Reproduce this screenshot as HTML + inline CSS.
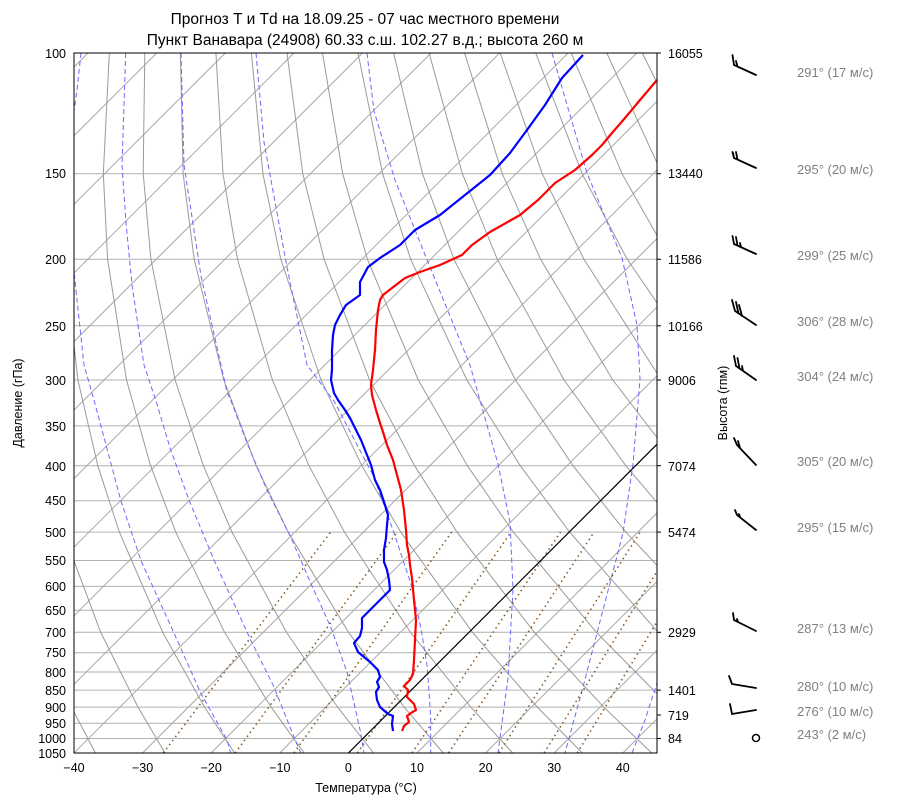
<!DOCTYPE html>
<html><head><meta charset="utf-8">
<style>
body{margin:0;background:#fff;}
svg text{font-family:"Liberation Sans","DejaVu Sans",sans-serif;}
</style></head>
<body>
<svg width="900" height="806" xmlns="http://www.w3.org/2000/svg">
<defs><clipPath id="c"><rect x="74" y="53" width="583" height="700"/></clipPath></defs>
<g clip-path="url(#c)">
<g stroke="#b0b0b0" stroke-width="1">
<line x1="74" x2="657" y1="53" y2="53"/><line x1="74" x2="657" y1="173.7" y2="173.7"/><line x1="74" x2="657" y1="259.3" y2="259.3"/><line x1="74" x2="657" y1="325.8" y2="325.8"/><line x1="74" x2="657" y1="380" y2="380"/><line x1="74" x2="657" y1="425.9" y2="425.9"/><line x1="74" x2="657" y1="465.7" y2="465.7"/><line x1="74" x2="657" y1="500.7" y2="500.7"/><line x1="74" x2="657" y1="532.1" y2="532.1"/><line x1="74" x2="657" y1="560.5" y2="560.5"/><line x1="74" x2="657" y1="586.4" y2="586.4"/><line x1="74" x2="657" y1="610.2" y2="610.2"/><line x1="74" x2="657" y1="632.3" y2="632.3"/><line x1="74" x2="657" y1="652.8" y2="652.8"/><line x1="74" x2="657" y1="672" y2="672"/><line x1="74" x2="657" y1="690.1" y2="690.1"/><line x1="74" x2="657" y1="707.1" y2="707.1"/><line x1="74" x2="657" y1="723.2" y2="723.2"/><line x1="74" x2="657" y1="738.5" y2="738.5"/>
</g>
<g stroke="#a8a8a8" stroke-width="1">
<line x1="-611.9" y1="753" x2="88.1" y2="53"/><line x1="-543.3" y1="753" x2="156.7" y2="53"/><line x1="-474.7" y1="753" x2="225.3" y2="53"/><line x1="-406.1" y1="753" x2="293.9" y2="53"/><line x1="-337.5" y1="753" x2="362.5" y2="53"/><line x1="-268.9" y1="753" x2="431.1" y2="53"/><line x1="-200.4" y1="753" x2="499.6" y2="53"/><line x1="-131.8" y1="753" x2="568.2" y2="53"/><line x1="-63.2" y1="753" x2="636.8" y2="53"/><line x1="5.3" y1="753" x2="705.3" y2="53"/><line x1="73.9" y1="753" x2="773.9" y2="53"/><line x1="142.5" y1="753" x2="842.5" y2="53"/><line x1="211.1" y1="753" x2="911.1" y2="53"/><line x1="279.7" y1="753" x2="979.7" y2="53"/><line x1="417" y1="753" x2="1117" y2="53"/><line x1="485.6" y1="753" x2="1185.6" y2="53"/><line x1="554.2" y1="753" x2="1254.2" y2="53"/><line x1="622.8" y1="753" x2="1322.8" y2="53"/>
</g>
<g stroke="#9a9a9a" stroke-width="1" fill="none">
<polyline points="95.4,753 71.4,707.1 38.8,632.3 6.9,532.1 -7.8,465.7 -19.3,380 -22.3,259.3 -16.4,173.7 2.7,53"/>
<polyline points="165,753 138,707.1 100.7,632.3 63.2,532.1 45,465.7 29.3,380 21,259.3 23.5,173.7 38.2,53"/>
<polyline points="234.5,753 204.5,707.1 162.7,632.3 119.4,532.1 97.8,465.7 77.9,380 64.3,259.3 63.4,173.7 73.8,53"/>
<polyline points="304.1,753 271.1,707.1 224.6,632.3 175.7,532.1 150.6,465.7 126.5,380 107.6,259.3 103.3,173.7 109.3,53"/>
<polyline points="373.6,753 337.6,707.1 286.5,632.3 232,532.1 203.4,465.7 175.1,380 150.9,259.3 143.2,173.7 144.8,53"/>
<polyline points="443.2,753 404.2,707.1 348.5,632.3 288.2,532.1 256.2,465.7 223.8,380 194.2,259.3 183.1,173.7 180.4,53"/>
<polyline points="512.7,753 470.7,707.1 410.4,632.3 344.5,532.1 309,465.7 272.4,380 237.5,259.3 223,173.7 215.9,53"/>
<polyline points="582.3,753 537.3,707.1 472.4,632.3 400.8,532.1 361.8,465.7 321,380 280.8,259.3 262.9,173.7 251.4,53"/>
<polyline points="651.8,753 603.8,707.1 534.3,632.3 457,532.1 414.6,465.7 369.6,380 324.1,259.3 302.8,173.7 287,53"/>
<polyline points="721.4,753 670.4,707.1 596.3,632.3 513.3,532.1 467.4,465.7 418.3,380 367.4,259.3 342.7,173.7 322.5,53"/>
<polyline points="791,753 736.9,707.1 658.2,632.3 569.6,532.1 520.2,465.7 466.9,380 410.7,259.3 382.6,173.7 358,53"/>
<polyline points="860.5,753 803.5,707.1 720.1,632.3 625.8,532.1 573,465.7 515.5,380 454,259.3 422.5,173.7 393.6,53"/>
<polyline points="930,753 870,707.1 782,632.3 682.1,532.1 625.8,465.7 564.1,380 497.3,259.3 462.4,173.7 429.1,53"/>
<polyline points="844,632.3 738.4,532.1 678.6,465.7 612.8,380 540.6,259.3 502.3,173.7 464.6,53"/>
<polyline points="906,632.3 794.7,532.1 731.4,465.7 661.4,380 583.9,259.3 542.2,173.7 500.2,53"/>
<polyline points="851,532.1 784.2,465.7 710,380 627.2,259.3 582.1,173.7 535.7,53"/>
<polyline points="837,465.7 758.6,380 670.5,259.3 622,173.7 571.2,53"/>
<polyline points="890,465.7 807.3,380 713.8,259.3 661.9,173.7 606.8,53"/>
<polyline points="856,380 757.1,259.3 701.8,173.7 642.3,53"/>
<polyline points="905,380 800.4,259.3 741.7,173.7 677.8,53"/>
</g>
<g stroke="#6a6aff" stroke-width="1" fill="none" stroke-dasharray="5,3">
<polyline points="81,53 77,90 72,125"/>
<polyline points="72,250 74,272 84,365 94,400 120.7,500 140.7,560 174,633 200.7,693 227,740 230.7,753"/>
<polyline points="125.7,53 122,165 126,223 132,285 144,365 155.7,400 170.7,450 189,500 214,560 250.7,640 274,687 294,737 300.7,753"/>
<polyline points="181,53 184,165 201,276 227,392 230.7,400 247,443 267,490 290.7,537 310.7,583 330.7,627 347.3,673 360.7,733 364,753"/>
<polyline points="256,53 264,142 287,267 307,365 334,401 374,477 394,533 410.7,583 420.7,627 427.3,667 430.7,717 430.7,753"/>
<polyline points="367,53 374,111 395,180 415,230 432,272 470,365 498,464 510,522 513,589 508,678 498,753"/>
<polyline points="552,53 570,115 587,173 622,258 637,325 640,379 633,464 623,533 597,633 583,687 565,753"/>
<polyline points="632,753 645,720 657,683 670,650"/>
</g>
<g stroke="#8b5a2b" stroke-width="1.6" fill="none" stroke-dasharray="1.5,3.5">
<line x1="163.2" y1="753" x2="330.6" y2="532.1"/>
<line x1="235.2" y1="753" x2="397.1" y2="532.1"/>
<line x1="293.9" y1="753" x2="451.7" y2="532.1"/>
<line x1="357.3" y1="753" x2="511" y2="532.1"/>
<line x1="412" y1="753" x2="560.5" y2="532.1"/>
<line x1="448.6" y1="753" x2="594.1" y2="532.1"/>
<line x1="498.9" y1="753" x2="640.2" y2="532.1"/>
<line x1="544.1" y1="753" x2="681.4" y2="532.1"/>
<line x1="577.2" y1="753" x2="711.6" y2="532.1"/>
</g>
<line x1="348.4" y1="753" x2="1048" y2="53" stroke="#000" stroke-width="1.2"/>
<polyline fill="none" stroke="#ff0000" stroke-width="2.2" stroke-linejoin="round" points="402,731 404,726 409,722 407,716 411,713 416,710 414,704 407,697 408,690 404,686 410,680 413,674 414,660 415,640 416,620 414,600 412,578 410,565 409,555 407,545 406,530 404,510 401,490 397,475 393,460 387,445 383,432 380,423 376,410 372,395 371,385 373,370 375,350 376,330 378,310 380,300 383,295 392,288 405,278 420,272 440,265 462,255 472,245 490,232 520,215 538,200 555,183 575,170 592,155 602,145 612,133 625,118 640,100 657,80"/>
<polyline fill="none" stroke="#0000ff" stroke-width="2.2" stroke-linejoin="round" points="393,731 392,724 393,716 388,714 380,707 377,700 376,692 379,687 377,682 380,677 378,670 370,662 358,652 354,643 360,636 362,628 362,618 370,610 378,602 385,595 390,590 389,580 387,570 384,562 384,550 386,538 387,525 388,515 385,505 380,490 375,480 371,465 367,455 361,440 355,428 350,418 345,410 338,400 334,393 331,380 332,370 332,350 333,335 335,325 340,315 346,305 360,295 360,282 368,267 380,258 400,245 415,230 440,215 465,195 490,175 510,153 527,130 545,105 562,78 583,55"/>
</g>
<rect x="74" y="53" width="583" height="700" fill="none" stroke="#000" stroke-width="1"/>
<g stroke="#000" stroke-width="1">
<line x1="657" x2="661" y1="53" y2="53"/><line x1="657" x2="661" y1="173.7" y2="173.7"/><line x1="657" x2="661" y1="259.3" y2="259.3"/><line x1="657" x2="661" y1="325.8" y2="325.8"/><line x1="657" x2="661" y1="380" y2="380"/><line x1="657" x2="661" y1="465.7" y2="465.7"/><line x1="657" x2="661" y1="532.1" y2="532.1"/><line x1="657" x2="661" y1="632.3" y2="632.3"/><line x1="657" x2="661" y1="690.1" y2="690.1"/><line x1="657" x2="661" y1="715" y2="715"/><line x1="657" x2="661" y1="738.5" y2="738.5"/>
</g>
<g font-size="12.5" fill="#000" text-anchor="end">
<text x="66" y="58">100</text><text x="66" y="178">150</text><text x="66" y="264">200</text><text x="66" y="331">250</text><text x="66" y="385">300</text><text x="66" y="431">350</text><text x="66" y="471">400</text><text x="66" y="505">450</text><text x="66" y="537">500</text><text x="66" y="565">550</text><text x="66" y="591">600</text><text x="66" y="615">650</text><text x="66" y="637">700</text><text x="66" y="657">750</text><text x="66" y="677">800</text><text x="66" y="695">850</text><text x="66" y="712">900</text><text x="66" y="728">950</text><text x="66" y="743">1000</text><text x="66" y="758">1050</text>
</g>
<g font-size="12.5" fill="#000">
<text x="668" y="58">16055</text><text x="668" y="178">13440</text><text x="668" y="264">11586</text><text x="668" y="331">10166</text><text x="668" y="385">9006</text><text x="668" y="471">7074</text><text x="668" y="537">5474</text><text x="668" y="637">2929</text><text x="668" y="695">1401</text><text x="668" y="720">719</text><text x="668" y="743">84</text>
</g>
<g font-size="12.5" fill="#000" text-anchor="middle">
<text x="74" y="772">−40</text><text x="142.6" y="772">−30</text><text x="211.2" y="772">−20</text><text x="279.8" y="772">−10</text><text x="348.4" y="772">0</text><text x="417" y="772">10</text><text x="485.6" y="772">20</text><text x="554.2" y="772">30</text><text x="622.8" y="772">40</text>
<text x="366" y="792">Температура (°C)</text>
<text x="365" y="24" font-size="15.5">Прогноз T и Td на 18.09.25 - 07 час местного времени</text>
<text x="365" y="45" font-size="15.5">Пункт Ванавара (24908) 60.33 с.ш. 102.27 в.д.; высота 260 м</text>
<text transform="translate(22,403) rotate(-90)">Давление (гПа)</text>
<text transform="translate(727,403) rotate(-90)">Высота (гпм)</text>
</g>
<g font-size="13" fill="#808080">
<text x="797" y="77">291° (17 м/с)</text><text x="797" y="174">295° (20 м/с)</text><text x="797" y="260">299° (25 м/с)</text><text x="797" y="326">306° (28 м/с)</text><text x="797" y="381">304° (24 м/с)</text><text x="797" y="466">305° (20 м/с)</text><text x="797" y="532">295° (15 м/с)</text><text x="797" y="633">287° (13 м/с)</text><text x="797" y="691">280° (10 м/с)</text><text x="797" y="716">276° (10 м/с)</text><text x="797" y="739">243° (2 м/с)</text>
</g>
<g stroke="#000" stroke-width="1.8" fill="none" stroke-linecap="round">
<path d="M756,75 L734,65 L732.5,55 M737.5,66.5 L736,61"/>
<path d="M756,168 L734,158 L732.5,152 M737.5,159.5 L736,152 M734,158 L733,153"/>
<path d="M756,254 L734,244 L732.5,236 M737.5,245.5 L736,237 M741,247 L740,243"/>
<path d="M756,325 L735,311 L732,300 M738.5,313.5 L736,302 M742,316 L739,305"/>
<path d="M756,380 L736,366 L734,356 M739.5,368.5 L737.5,358 M743,371 L742,366"/>
<path d="M756,465 L737,445 L734,438 M740,448 L738,441"/>
<path d="M756,530 L737,515 L735,510 M740,517 L739,514"/>
<path d="M756,631 L734,620 L733,613 M738,622 L737,619"/>
<path d="M756,688 L732,684 L729,676"/>
<path d="M756,710 L732,714 L730,704"/>
</g>
<circle cx="756" cy="738" r="3.5" fill="none" stroke="#000" stroke-width="1.5"/>
</svg>
</body></html>
